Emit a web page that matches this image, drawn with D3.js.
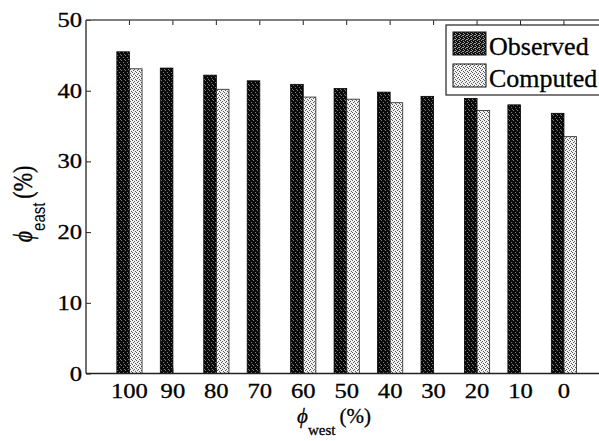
<!DOCTYPE html>
<html>
<head>
<meta charset="utf-8">
<script src="https://cdn.jsdelivr.net/npm/d3@7/dist/d3.min.js"></script>
<style>
  html, body { margin: 0; padding: 0; background: #fff; }
  svg { display: block; }
</style>
</head>
<body>
<svg id="chart" width="599" height="441"></svg>
<script>
// φ_west mixing levels (x categories)
const categories = ["100", "90", "80", "70", "60", "50", "40", "30", "20", "10", "0"];
// φ_east (%) observed at each level
const observed = [45.5, 43.2, 42.2, 41.4, 40.9, 40.3, 39.8, 39.2, 38.9, 38.0, 36.8];
// φ_east (%) computed (only at some levels)
const computed = [43.1, null, 40.2, null, 39.1, 38.8, 38.3, null, 37.2, null, 33.5];
// y-axis tick values
const yTicks = [0, 10, 20, 30, 40, 50];
const seriesNames = ["Observed", "Computed"];

const svg = d3.select("#chart");
const W = 599, H = 441;
svg.append("rect").attr("width", W).attr("height", H).attr("fill", "#fff");

const plot = { left: 86, right: 607.4, top: 20, bottom: 373.5 };
const step = (plot.right - plot.left) / (categories.length + 1);

const x = d3.scaleBand()
  .domain(categories)
  .range([plot.left + step / 2, plot.right - step / 2])
  .paddingInner(0).paddingOuter(0);
const y = d3.scaleLinear().domain([0, 50]).range([plot.bottom, plot.top]);

const barW = x.bandwidth() * 0.29;
const serif = "'Liberation Serif', 'Times New Roman', serif";
const stretch = 1.2;
const PHI = "\u03D5";

// stipple textures for the two series
const defs = svg.append("defs");
const pObs = defs.append("pattern").attr("id", "stipDark")
  .attr("patternUnits", "userSpaceOnUse").attr("width", 4).attr("height", 5);
pObs.append("rect").attr("width", 4).attr("height", 5).attr("fill", "#0a0a0a");
[[1, 0], [3, 2], [0, 4]].forEach(([a, b]) =>
  pObs.append("rect").attr("x", a).attr("y", b).attr("width", 1).attr("height", 1).attr("fill", "#7a7a7a"));

const pComp = defs.append("pattern").attr("id", "stipLight")
  .attr("patternUnits", "userSpaceOnUse").attr("width", 4).attr("height", 4);
pComp.append("rect").attr("width", 4).attr("height", 4).attr("fill", "#f2f2f2");
[[0, 0], [2, 1], [1, 2], [3, 3]].forEach(([a, b]) =>
  pComp.append("rect").attr("x", a).attr("y", b).attr("width", 1).attr("height", 1).attr("fill", "#5a5a5a"));

const pObsKey = defs.append("pattern").attr("id", "stipDarkKey")
  .attr("patternUnits", "userSpaceOnUse").attr("width", 4).attr("height", 4);
pObsKey.append("rect").attr("width", 4).attr("height", 4).attr("fill", "#111");
[[1, 0], [3, 1], [0, 2], [2, 3], [3, 3]].forEach(([a, b]) =>
  pObsKey.append("rect").attr("x", a).attr("y", b).attr("width", 1).attr("height", 1).attr("fill", "#999"));

const fills = ["url(#stipDark)", "url(#stipLight)"];

// bars
const rows = categories.map((c, i) => ({ c, obs: observed[i], comp: computed[i] }));
const g = svg.append("g");
g.selectAll("rect.obs").data(rows).join("rect")
  .attr("class", "obs")
  .attr("x", d => x(d.c) + x.bandwidth() / 2 - barW)
  .attr("y", d => y(d.obs))
  .attr("width", barW)
  .attr("height", d => y(0) - y(d.obs))
  .attr("fill", fills[0])
  .attr("stroke", "#000").attr("stroke-width", 0.8);
g.selectAll("rect.comp").data(rows.filter(d => d.comp != null)).join("rect")
  .attr("class", "comp")
  .attr("x", d => x(d.c) + x.bandwidth() / 2)
  .attr("y", d => y(d.comp))
  .attr("width", barW)
  .attr("height", d => y(0) - y(d.comp))
  .attr("fill", fills[1])
  .attr("stroke", "#222").attr("stroke-width", 0.8);

// axes (inward ticks)
const axisColor = "#222";
const yAxis = svg.append("g").attr("transform", `translate(${plot.left},0)`)
  .call(d3.axisLeft(y).tickValues(yTicks).tickSizeInner(-5).tickSizeOuter(0).tickPadding(4));
const xAxis = svg.append("g").attr("transform", `translate(0,${plot.bottom})`)
  .call(d3.axisBottom(x).tickSizeInner(-5).tickSizeOuter(0).tickPadding(10));
const topAxis = svg.append("g").attr("transform", `translate(0,${plot.top})`)
  .call(d3.axisTop(x).tickSizeInner(-5).tickSizeOuter(0).tickFormat(""));

[yAxis, xAxis, topAxis].forEach(a => {
  a.selectAll("path.domain").remove();
  a.selectAll("line").attr("stroke", axisColor).attr("stroke-width", 1);
  a.selectAll("text")
    .attr("font-family", serif).attr("font-size", 20.5).attr("fill", "#000")
    .attr("stroke", "#000").attr("stroke-width", 0.3)
    .attr("transform", `scale(${stretch},1)`);
});
yAxis.selectAll("text").attr("x", -4 / stretch);

// frame lines
svg.append("line").attr("x1", plot.left).attr("x2", plot.left)
  .attr("y1", plot.top).attr("y2", plot.bottom)
  .attr("stroke", axisColor).attr("stroke-width", 1.3);
svg.append("line").attr("x1", plot.left).attr("x2", plot.right)
  .attr("y1", plot.bottom).attr("y2", plot.bottom)
  .attr("stroke", axisColor).attr("stroke-width", 1.3);
svg.append("line").attr("x1", plot.left).attr("x2", plot.right)
  .attr("y1", plot.top).attr("y2", plot.top)
  .attr("stroke", "#555").attr("stroke-width", 1.6);

// x-axis title: φ_west (%)
const xt = svg.append("text")
  .attr("transform", `translate(334,423)`)
  .attr("text-anchor", "middle")
  .attr("font-family", serif).attr("font-size", 21).attr("fill", "#000")
  .attr("stroke", "#000").attr("stroke-width", 0.3);
xt.append("tspan").attr("font-style", "italic").text(PHI);
xt.append("tspan").attr("font-size", 15).attr("dy", 12).text("west");
xt.append("tspan").attr("dy", -12).attr("dx", 4).text("(%)");

// y-axis title: φ_east (%)
const yt = svg.append("text")
  .attr("transform", `translate(32,204) scale(${stretch},1) rotate(-90)`)
  .attr("text-anchor", "middle")
  .attr("font-family", serif).attr("font-size", 22).attr("fill", "#000")
  .attr("stroke", "#000").attr("stroke-width", 0.3);
yt.append("tspan").attr("font-style", "italic").text(PHI);
yt.append("tspan").attr("font-family", "'Liberation Sans', Arial, sans-serif")
  .attr("font-size", 15).attr("stroke-width", 0).attr("dy", 11).text("east");
yt.append("tspan").attr("dy", -11).attr("dx", 4).text("(%)");

// legend
const leg = svg.append("g");
leg.append("rect").attr("x", 446).attr("y", 25).attr("width", 170).attr("height", 70)
  .attr("fill", "#fff").attr("stroke", "#222").attr("stroke-width", 1.2);
const keyFills = ["url(#stipDarkKey)", "url(#stipLight)"];
seriesNames.forEach((name, i) => {
  const top = 32 + i * 32;
  leg.append("rect").attr("x", 453).attr("y", top).attr("width", 33).attr("height", 23)
    .attr("fill", keyFills[i]).attr("stroke", "#111").attr("stroke-width", 1);
  leg.append("text").attr("x", 489).attr("y", top + 23)
    .attr("font-family", serif).attr("font-size", 26).attr("fill", "#000")
    .attr("stroke", "#000").attr("stroke-width", 0.3)
    .text(name);
});
</script>
</body>
</html>
